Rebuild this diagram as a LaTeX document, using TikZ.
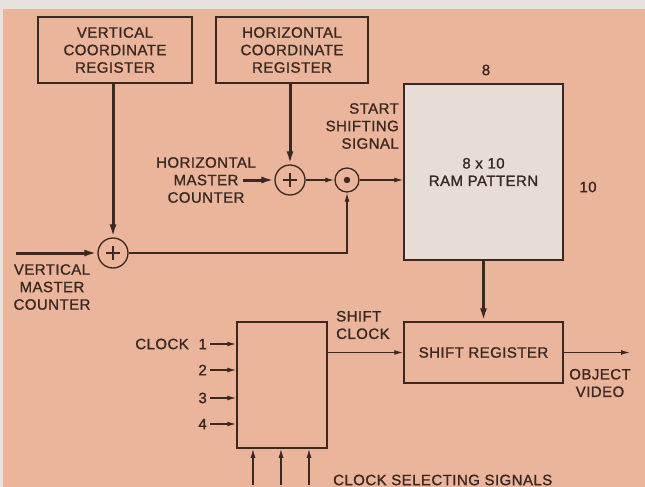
\documentclass[tikz,border=0pt]{standalone}
\usepackage{fontspec}
\setmainfont{Liberation Sans}[FakeBold=1.2,LetterSpace=3]
\usetikzlibrary{arrows.meta,calc}
\definecolor{bg}{HTML}{EBB59B}
\definecolor{band}{HTML}{E6E2E0}
\definecolor{ink}{HTML}{3A2823}
\definecolor{ramfill}{HTML}{E8DCD6}
\begin{document}
\begin{tikzpicture}[x=1pt,y=-1pt,
  font=\fontsize{15}{17.5}\selectfont,
  every node/.style={text=ink},
  box/.style={draw=ink, line width=1.5pt, align=center, inner sep=0pt},
  summer/.style={draw=ink, line width=1.3pt, circle, minimum size=30pt, inner sep=0pt},
  gate/.style={draw=ink, line width=1.3pt, circle, minimum size=24pt, inner sep=0pt},
  arr/.style={draw=ink, line width=1.3pt, -{Latex[length=9pt,width=5pt]}},
  thickarr/.style={draw=ink, line width=3pt, -{Latex[length=13pt,width=7pt]}},
  lbl/.style={align=center, inner sep=0pt}
]
\useasboundingbox (0,0) rectangle (645,487);
\fill[band] (0,0) rectangle (645,487);
\fill[bg] (3,9) rectangle (645,487);

% boxes
\node[box, minimum width=154pt, minimum height=66pt] (vcr) at (115,50) {VERTICAL\\COORDINATE\\REGISTER};
\node[box, minimum width=152pt, minimum height=66pt] (hcr) at (292,50) {HORIZONTAL\\COORDINATE\\REGISTER};
\node[box, fill=ramfill, minimum width=159pt, minimum height=176pt] (ram) at (483.5,172) {8 x 10\\RAM PATTERN};
\node[box, minimum width=159pt, minimum height=61pt] (sr) at (483.5,352.5) {SHIFT REGISTER};
\node[box, minimum width=90pt, minimum height=126pt] (clk) at (282,385) {};

% summing junctions
\node[summer] (hplus) at (290,180) {};
\draw[ink, line width=1.2pt] ($(hplus)+(-7,0)$) -- ($(hplus)+(7,0)$) ($(hplus)+(0,-7)$) -- ($(hplus)+(0,7)$);
\node[summer] (vplus) at (113,253) {};
\draw[ink, line width=1.2pt] ($(vplus)+(-7,0)$) -- ($(vplus)+(7,0)$) ($(vplus)+(0,-7)$) -- ($(vplus)+(0,7)$);
\node[gate] (dot) at (347,180) {};
\fill[ink] (dot) circle (3.2pt);

% labels
\node[lbl] (n8) at (486,70) {8};
\node[lbl] (n10) at (588,187) {10};
\node[lbl, align=right, anchor=east] (sss) at (399,126) {START\\SHIFTING\\SIGNAL};
\node[lbl] (hmc) at (206,180) {HORIZONTAL\\MASTER\\COUNTER};
\node[lbl] (vmc) at (52,287) {VERTICAL\\MASTER\\COUNTER};
\node[lbl, align=left, anchor=west] (sc) at (336,325) {SHIFT\\CLOCK};
\node[lbl] (ov) at (600,383) {OBJECT\\VIDEO};
\node[lbl, anchor=west] (css) at (333,480) {CLOCK SELECTING SIGNALS};
\node[lbl, anchor=east] (clklbl) at (189,344) {CLOCK};
\node[lbl, anchor=east] (c1) at (207,344) {1};
\node[lbl, anchor=east] (c2) at (207,370) {2};
\node[lbl, anchor=east] (c3) at (207,398) {3};
\node[lbl, anchor=east] (c4) at (207,424) {4};

% free ends
\coordinate (vin) at (16,253);
\coordinate (hin) at (243,180);
\coordinate (out) at (630,352.5);
\coordinate (b1) at (253,485);
\coordinate (b2) at (281,485);
\coordinate (b3) at (309,485);

% connectors
\draw[thickarr] (vplus |- vcr.south) -- (vplus.north);
\draw[thickarr] (hplus |- hcr.south) -- (hplus.north);
\draw[thickarr] (vin) -- (vplus.west);
\draw[thickarr] (hin) -- (hplus.west);
\draw[arr] (hplus.east) -- (dot.west);
\draw[arr] (dot.east) -- (dot.east -| ram.west);
\draw[arr] (vplus.east) -| (dot.south);
\draw[thickarr] (ram.south) -- (sr.north);
\draw[arr] (sr.west -| clk.east) -- (sr.west);
\draw[arr] (sr.east) -- (out);
\draw[arr] (c1.east) ++(3,0) -- (c1.east -| clk.west);
\draw[arr] (c2.east) ++(3,0) -- (c2.east -| clk.west);
\draw[arr] (c3.east) ++(3,0) -- (c3.east -| clk.west);
\draw[arr] (c4.east) ++(3,0) -- (c4.east -| clk.west);
\draw[arr] (b1) -- (b1 |- clk.south);
\draw[arr] (b2) -- (b2 |- clk.south);
\draw[arr] (b3) -- (b3 |- clk.south);
\end{tikzpicture}
\end{document}
